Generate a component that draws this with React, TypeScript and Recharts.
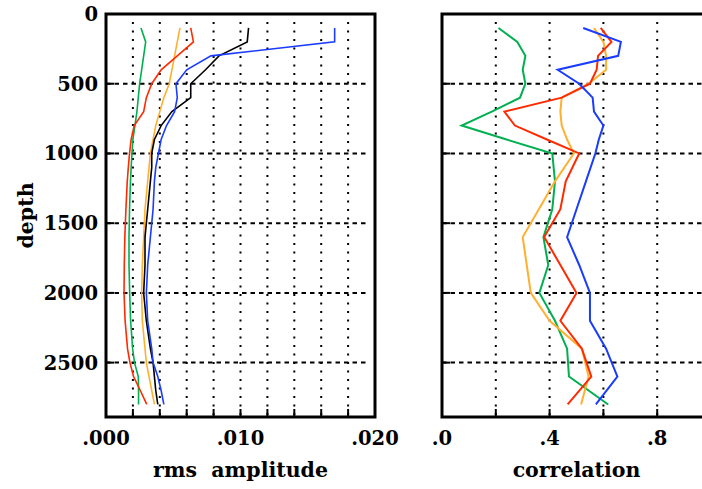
import { Label, Line, LineChart, ReferenceArea, ReferenceLine, XAxis, YAxis } from "recharts";

// left panel: rms amplitude against depth
const ampDepths = [100, 200, 300, 400, 500, 600, 700, 800, 900, 1000, 1100, 1200, 1400, 1600, 1800, 2000, 2200, 2400, 2500, 2600, 2700, 2800];
const ampGreen = [0.0026, 0.00295, 0.0028, 0.00265, 0.0025, 0.0024, 0.0023, 0.00215, 0.002, 0.00193, 0.00187, 0.00182, 0.00175, 0.00171, 0.00171, 0.00176, 0.00183, 0.00198, 0.00212, 0.0024, 0.00242, 0.00242];
const ampOrange = [0.0055, 0.0053, 0.0051, 0.0049, 0.0047, 0.0043, 0.004, 0.0037, 0.0035, 0.0033, 0.0032, 0.0031, 0.0029, 0.0028, 0.0027, 0.00265, 0.0027, 0.0029, 0.003, 0.0032, 0.0034, 0.0036];
const ampRed = [0.0063, 0.0065, 0.0053, 0.0041, 0.0034, 0.003, 0.0028, 0.0021, 0.00187, 0.00175, 0.00166, 0.00158, 0.00148, 0.0014, 0.00136, 0.00134, 0.00142, 0.0016, 0.00178, 0.00205, 0.00255, 0.00303];
const ampBlack = [0.0106, 0.0105, 0.0084, 0.0074, 0.0063, 0.0063, 0.0049, 0.0041, 0.0036, 0.0034, 0.0034, 0.0033, 0.0031, 0.0029, 0.0029, 0.0028, 0.003, 0.0033, 0.0035, 0.0036, 0.0037, 0.00385];
const ampBlue = [0.017, 0.017, 0.0078, 0.006, 0.0052, 0.0053, 0.0051, 0.0045, 0.0041, 0.0039, 0.0037, 0.0036, 0.0035, 0.0033, 0.0031, 0.003, 0.0031, 0.0034, 0.0035, 0.00385, 0.0041, 0.0043];

// right panel: correlation against depth
const corrDepths = [100, 200, 300, 400, 500, 600, 700, 800, 900, 1000, 1200, 1400, 1600, 1800, 2000, 2200, 2400, 2600, 2800];
const corrGreen = [0.21, 0.28, 0.31, 0.3, 0.31, 0.29, 0.185, 0.073, 0.24, 0.41, 0.42, 0.41, 0.377, 0.395, 0.362, 0.42, 0.465, 0.472, 0.618];
const corrRed = [0.59, 0.63, 0.58, 0.575, 0.55, 0.445, 0.232, 0.271, 0.39, 0.51, 0.46, 0.44, 0.38, 0.44, 0.5, 0.44, 0.52, 0.555, 0.467];
const corrOrange = [0.565, 0.6, 0.61, 0.61, 0.545, 0.445, 0.44, 0.445, 0.465, 0.49, 0.42, 0.36, 0.3, 0.315, 0.33, 0.4, 0.52, 0.545, 0.517];
const corrBlue = [0.525, 0.665, 0.655, 0.43, 0.51, 0.56, 0.565, 0.6, 0.583, 0.57, 0.535, 0.5, 0.465, 0.51, 0.55, 0.55, 0.61, 0.652, 0.572];

const depthTicks = [0, 500, 1000, 1500, 2000, 2500];
const ampTicks = [0, 0.01, 0.02];
const ampGrid = [0.002, 0.004, 0.006, 0.008, 0.01, 0.012, 0.014, 0.016, 0.018];
const corrTicks = [0, 0.4, 0.8];
const corrGrid = [0.2, 0.4, 0.6, 0.8];

const DEPTH_MAX = 2890;
const PLOT_W = 269;
const PLOT_H = 403;
const H = 489;
const FONT = '"DejaVu Serif", serif';

const GREEN = "#00b050";
const ORANGE = "#ffb030";
const RED = "#ff2a00";
const BLUE = "#1a3cff";

const ampData = ampDepths.map((depth, i) => ({
  depth,
  green: ampGreen[i],
  orange: ampOrange[i],
  red: ampRed[i],
  black: ampBlack[i],
  blue: ampBlue[i],
}));

const corrData = corrDepths.map((depth, i) => ({
  depth,
  green: corrGreen[i],
  red: corrRed[i],
  orange: corrOrange[i],
  blue: corrBlue[i],
}));

const tickStyle = { fill: "#000", fontSize: 19.5, fontFamily: FONT, fontWeight: 700 };
const titleStyle = { fill: "#000", fontSize: 20.5, fontFamily: FONT, fontWeight: 700 };

type Series = { key: string; color: string };

type PanelProps = {
  data: Record<string, number>[];
  series: Series[];
  xMax: number;
  xTicks: number[];
  xGrid: number[];
  fmt: (v: number) => string;
  title: string;
  depthAxis: boolean;
  left: number;
  width: number;
  yWidth: number;
  right: number;
  lineWidth: number;
};

function Panel(p: PanelProps) {
  const ux = p.xMax / PLOT_W; // data units per pixel
  const uy = DEPTH_MAX / PLOT_H;
  const tick = 8;
  return (
    <div style={{ position: "absolute", left: p.left, top: 0 }}>
      <LineChart
        width={p.width}
        height={H}
        layout="vertical"
        data={p.data}
        margin={{ top: 14, right: p.right, left: 0, bottom: 0 }}
      >
        <XAxis
          type="number"
          domain={[0, p.xMax]}
          allowDataOverflow
          ticks={p.xTicks}
          interval={0}
          tickFormatter={p.fmt}
          axisLine={false}
          tickLine={false}
          tickSize={6}
          tickMargin={8}
          height={72}
          tick={tickStyle}
        >
          <Label value={p.title} position="insideBottom" offset={12} style={{ ...titleStyle, textAnchor: "middle" }} />
        </XAxis>
        {/* in vertical layout the number y axis already runs top to bottom */}
        <YAxis
          type="number"
          dataKey="depth"
          domain={[0, DEPTH_MAX]}
          allowDataOverflow
          ticks={depthTicks}
          interval={0}
          axisLine={false}
          tickLine={false}
          tickSize={6}
          tickMargin={2}
          width={p.yWidth}
          tick={p.depthAxis ? tickStyle : false}
        >
          {p.depthAxis && (
            <Label
              value="depth"
              angle={-90}
              position="insideLeft"
              offset={26}
              style={{ ...titleStyle, textAnchor: "middle" }}
            />
          )}
        </YAxis>
        {depthTicks
          .filter((d) => d > 0)
          .map((d) => (
            <ReferenceLine
              key={`h${d}`}
              segment={[
                { x: 0, y: d },
                { x: p.xMax - tick * ux, y: d },
              ]}
              stroke="#000"
              strokeWidth={2}
              strokeDasharray="4.5 4"
              ifOverflow="visible"
            />
          ))}
        {depthTicks
          .filter((d) => d > 0)
          .map((d) => (
            <ReferenceLine
              key={`ht${d}`}
              segment={[
                { x: 0, y: d },
                { x: tick * ux, y: d },
              ]}
              stroke="#000"
              strokeWidth={2}
              ifOverflow="visible"
            />
          ))}
        {p.xGrid.map((g) => (
          <ReferenceLine
            key={`v${g}`}
            segment={[
              { x: g, y: tick * uy },
              { x: g, y: DEPTH_MAX },
            ]}
            stroke="#000"
            strokeWidth={2}
            strokeDasharray="2 6.5"
            ifOverflow="visible"
          />
        ))}
        {p.xGrid.map((g) => (
          <ReferenceLine
            key={`vt${g}`}
            segment={[
              { x: g, y: DEPTH_MAX - tick * uy },
              { x: g, y: DEPTH_MAX },
            ]}
            stroke="#000"
            strokeWidth={2}
            ifOverflow="visible"
          />
        ))}
        <ReferenceArea
          x1={0}
          x2={p.xMax}
          y1={0}
          y2={DEPTH_MAX}
          fill="none"
          fillOpacity={0}
          stroke="#000"
          strokeWidth={3}
          ifOverflow="visible"
        />
        {p.series.map((s) => (
          <Line
            key={s.key}
            dataKey={s.key}
            stroke={s.color}
            strokeWidth={p.lineWidth}
            dot={false}
            activeDot={false}
            isAnimationActive={false}
          />
        ))}
      </LineChart>
    </div>
  );
}

export default function App() {
  return (
    <div style={{ position: "absolute", left: 0, top: 0, width: 702, height: H, overflow: "hidden", background: "#fff" }}>
      <Panel
        data={ampData}
        series={[
          { key: "green", color: GREEN },
          { key: "orange", color: ORANGE },
          { key: "red", color: RED },
          { key: "black", color: "#000" },
          { key: "blue", color: BLUE },
        ]}
        xMax={0.02}
        xTicks={ampTicks}
        xGrid={ampGrid}
        fmt={(v) => v.toFixed(3).replace(/^0/, "")}
        title={"rms\u00a0\u00a0amplitude"}
        depthAxis
        left={0}
        width={400}
        yWidth={106}
        right={25}
        lineWidth={1.6}
      />
      <Panel
        data={corrData}
        series={[
          { key: "green", color: GREEN },
          { key: "orange", color: ORANGE },
          { key: "red", color: RED },
          { key: "blue", color: BLUE },
        ]}
        xMax={1}
        xTicks={corrTicks}
        xGrid={corrGrid}
        fmt={(v) => v.toFixed(1).replace(/^0/, "")}
        title="correlation"
        depthAxis={false}
        left={400}
        width={320}
        yWidth={42}
        right={9}
        lineWidth={2}
      />
    </div>
  );
}
